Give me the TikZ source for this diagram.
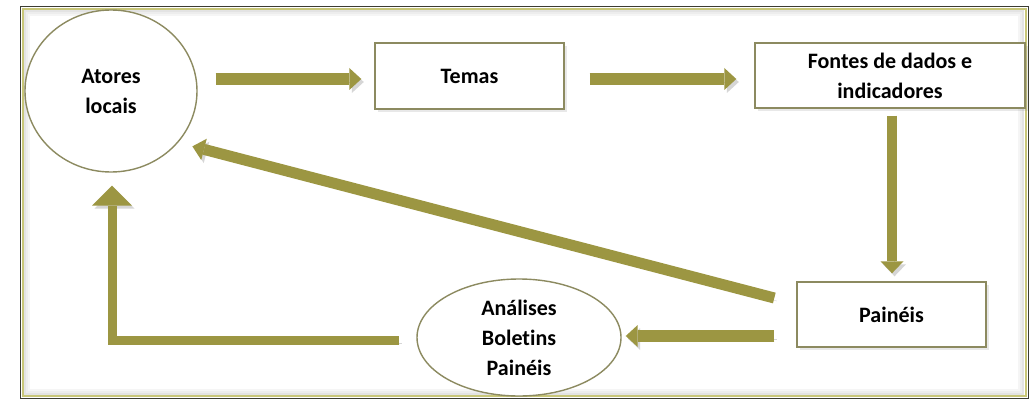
\documentclass[tikz,border=0pt]{standalone}
\usepackage{fontspec}
\setmainfont[Ligatures={NoCommon}]{Carlito}
\usetikzlibrary{arrows.meta,shapes.geometric,shadows,calc}
\definecolor{arrowolive}{RGB}{156,150,66}
\definecolor{boxline}{RGB}{140,138,96}
\definecolor{framedark}{RGB}{60,60,50}
\definecolor{frameolive}{RGB}{200,198,120}
\begin{document}
\begin{tikzpicture}[x=1pt,y=-1pt,
  lbl/.style={font=\bfseries\fontsize{22}{30}\selectfont, text=black, align=center},
  boxnode/.style={lbl, draw=boxline, line width=1.4pt, fill=white, rectangle,
     drop shadow={opacity=0.18, shadow xshift=3pt, shadow yshift=-3pt}},
  ellnode/.style={lbl, draw=boxline, line width=1.4pt, fill=white, ellipse, inner sep=0pt},
  bigarrow/.style={draw=arrowolive, line width=12pt, line join=miter,
     -{Triangle[width=22pt,length=12pt,line width=0pt]},
     preaction={draw=black!16, transform canvas={shift={(2.5pt,-3pt)}}}},
]
\useasboundingbox (0,0) rectangle (1032,401);
\fill[white] (0,0) rectangle (1032,401);
% frame
\foreach \d/\c in {9/black!4,7/black!7,5/black!11} {
  \draw[\c, line width=2pt] (20+\d,6+\d) rectangle (1028-\d,399-\d);
}
\draw[framedark, line width=1.2pt] (20.6,6.6) rectangle (1028.4,398.4);
\draw[frameolive, line width=2pt] (22.6,8.6) rectangle (1026.4,396.4);

% nodes
\node[ellnode, minimum width=172pt, minimum height=162pt] (atores) at (111,91) {Atores\\locais};
\node[boxnode, minimum width=189pt, minimum height=66pt] (temas) at (469.5,76) {Temas};
\node[boxnode, minimum width=270pt, minimum height=65pt] (fontes) at (890,75.5) {Fontes de dados e\\indicadores};
\node[boxnode, minimum width=189pt, minimum height=65pt] (paineis) at (891.5,314.5) {Painéis};
\node[ellnode, minimum width=204pt, minimum height=117pt] (ell) at (519,337.5) {Análises\\Boletins\\Painéis};

% connectors
\draw[bigarrow] ($(atores.east |- temas.west)+(18,3)$) -- ($(temas.west)+(-13,3)$);
\draw[bigarrow] ($(temas.east)+(25,3)$) -- ($(fontes.west |- temas.east)+(-18,3)$);
\draw[bigarrow, line width=10pt, -{Triangle[width=23pt,length=12pt,line width=0pt]}]
  ($(fontes.south)+(2,7)$) -- ($(paineis.north)+(0.5,-8)$);
\draw[bigarrow, line width=11pt] ($(paineis.west)+(-22,-16.5)$) -- ($(atores.-33)+(10,9)$);
\draw[bigarrow] ($(paineis.west |- ell.east)+(-22,-1.5)$) -- ($(ell.east)+(4,-1.5)$);
\draw[bigarrow, line width=9pt, -{Triangle[width=40pt,length=20pt,line width=0pt]}]
  ($(ell.west)+(-17,2.5)$) -| ($(atores.south)+(1,13)$);
\end{tikzpicture}
\end{document}
